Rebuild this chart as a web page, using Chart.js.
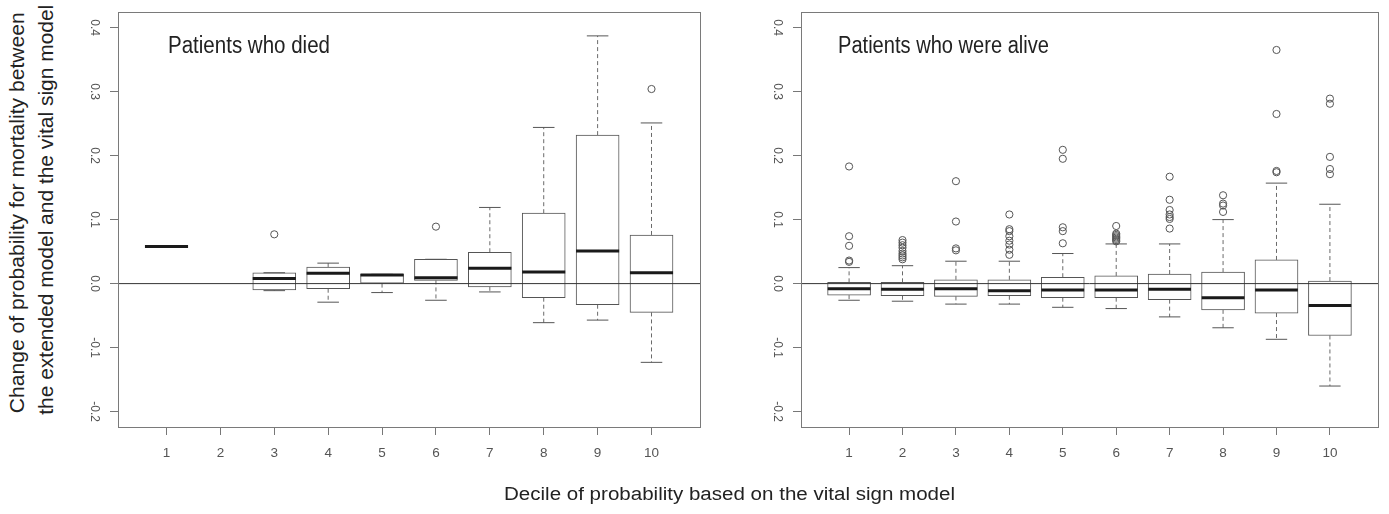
<!DOCTYPE html>
<html>
<head>
<meta charset="utf-8">
<script src="https://cdn.jsdelivr.net/npm/chart.js@4.4.1/dist/chart.umd.min.js"></script>
<style>
    html, body { margin: 0; padding: 0; background: #fff; }
    body { width: 1389px; height: 514px; position: relative; overflow: hidden; font-family: 'Liberation Sans', Arial, sans-serif; }
    canvas { position: absolute; top: 0; }
    .label { position: absolute; white-space: nowrap; color: #222; }
</style>
</head>
<body>
<canvas id="died-chart" width="650" height="514" style="left:60px"></canvas>
<canvas id="alive-chart" width="649" height="514" style="left:740px"></canvas>

<script>
// Deciles on the x axis and axis ticks
const deciles = [1, 2, 3, 4, 5, 6, 7, 8, 9, 10];
const yTicks = [-0.2, -0.1, 0.0, 0.1, 0.2, 0.3, 0.4];

// Patients who died (null = empty decile)
const diedLow = [0.058, null, -0.011, -0.029, -0.014, -0.026, -0.013, -0.061, -0.057, -0.123];
const diedQ1 = [0.058, null, -0.010, -0.008, 0.000, 0.005, -0.005, -0.022, -0.033, -0.045];
const diedMedian = [0.058, null, 0.008, 0.016, 0.0135, 0.009, 0.024, 0.018, 0.051, 0.017];
const diedQ3 = [0.058, null, 0.017, 0.026, 0.0145, 0.038, 0.049, 0.110, 0.232, 0.076];
const diedHigh = [0.058, null, 0.017, 0.032, 0.0145, 0.038, 0.119, 0.244, 0.387, 0.251];
const diedOutliers = [[], [], [0.077], [], [], [0.089], [], [], [], [0.304]];

// Patients who were alive
const aliveLow = [-0.026, -0.0275, -0.032, -0.032, -0.037, -0.039, -0.052, -0.069, -0.087, -0.160];
const aliveQ1 = [-0.018, -0.019, -0.020, -0.019, -0.022, -0.022, -0.025, -0.041, -0.046, -0.081];
const aliveMedian = [-0.008, -0.009, -0.008, -0.011, -0.010, -0.010, -0.009, -0.022, -0.010, -0.034];
const aliveQ3 = [0.002, 0.002, 0.006, 0.006, 0.010, 0.012, 0.015, 0.018, 0.037, 0.004];
const aliveHigh = [0.025, 0.028, 0.035, 0.035, 0.047, 0.062, 0.062, 0.100, 0.157, 0.124];
const aliveOutliers = [
    [0.034, 0.036, 0.059, 0.074, 0.183],
    [0.038, 0.041, 0.044, 0.047, 0.051, 0.056, 0.060, 0.064, 0.068],
    [0.052, 0.055, 0.097, 0.160],
    [0.045, 0.053, 0.061, 0.067, 0.074, 0.082, 0.085, 0.108],
    [0.063, 0.082, 0.088, 0.195, 0.209],
    [0.066, 0.068, 0.070, 0.072, 0.074, 0.076, 0.078, 0.090],
    [0.086, 0.101, 0.104, 0.108, 0.115, 0.131, 0.167],
    [0.112, 0.122, 0.125, 0.138],
    [0.174, 0.176, 0.265, 0.365],
    [0.171, 0.179, 0.198, 0.281, 0.289]
];

Chart.defaults.font.family = "'Liberation Sans', Arial, sans-serif";
Chart.defaults.animation = false;

const GAP = (x) => ({ x: x, y: null });

/**
 * Draw the plot frame (R box()) around the chart area
 */
const framePlugin = {
    id: 'frame',
    afterDraw(chart) {
        const { ctx, chartArea: a } = chart;
        ctx.save();
        ctx.strokeStyle = '#7a7a7a';
        ctx.lineWidth = 1;
        ctx.strokeRect(Math.round(a.left) + 0.5, Math.round(a.top) + 0.5,
            Math.round(a.right - a.left), Math.round(a.bottom - a.top));
        ctx.restore();
    }
};

/**
 * Build datasets for one boxplot panel
 */
function buildDatasets(low, q1, med, q3, high, outliers) {
    const boxes = [], medians = [], whiskers = [], caps = [], points = [];

    deciles.forEach((d, i) => {
        if (med[i] === null) return;
        boxes.push({ x: d, y: [q1[i], q3[i]] });
        medians.push({ x: d - 0.4, y: med[i] }, { x: d + 0.4, y: med[i] }, GAP(d));
        whiskers.push({ x: d, y: q3[i] }, { x: d, y: high[i] }, GAP(d));
        whiskers.push({ x: d, y: q1[i] }, { x: d, y: low[i] }, GAP(d));
        caps.push({ x: d - 0.2, y: high[i] }, { x: d + 0.2, y: high[i] }, GAP(d));
        caps.push({ x: d - 0.2, y: low[i] }, { x: d + 0.2, y: low[i] }, GAP(d));
        outliers[i].forEach(v => points.push({ x: d, y: v }));
    });

    return [
        {
            type: 'bar', data: boxes, order: 4,
            backgroundColor: '#ffffff', borderColor: '#555', borderWidth: 1,
            borderSkipped: false, barThickness: 43
        },
        {
            type: 'scatter', data: whiskers, order: 5, showLine: true, spanGaps: false,
            borderColor: '#6a6a6a', borderWidth: 1, borderDash: [4, 3], pointRadius: 0
        },
        {
            type: 'scatter', data: caps, order: 3, showLine: true, spanGaps: false,
            borderColor: '#555', borderWidth: 1, pointRadius: 0
        },
        {
            type: 'scatter', data: medians, order: 2, showLine: true, spanGaps: false,
            borderColor: '#1a1a1a', borderWidth: 3, pointRadius: 0
        },
        {
            type: 'scatter', data: points, order: 1,
            pointStyle: 'circle', pointRadius: 3.6, borderWidth: 1,
            borderColor: '#555', backgroundColor: 'rgba(0,0,0,0)'
        },
        {
            type: 'scatter', data: [{ x: 0.1, y: 0 }, { x: 10.9, y: 0 }], order: 0, showLine: true,
            borderColor: '#333', borderWidth: 1, pointRadius: 0
        }
    ];
}

/**
 * Create one panel chart
 */
function createPanel(canvasId, datasets, yAxisWidth, rightPad) {
    return new Chart(document.getElementById(canvasId), {
        type: 'bar',
        data: { datasets: datasets },
        plugins: [framePlugin],
        options: {
            responsive: false,
            devicePixelRatio: 1,
            layout: { padding: { top: 11, right: rightPad, left: 0, bottom: 0 } },
            plugins: { legend: { display: false }, tooltip: { enabled: false } },
            scales: {
                x: {
                    type: 'linear', min: 0.1, max: 10.9, offset: false,
                    afterBuildTicks: s => { s.ticks = deciles.map(v => ({ value: v })); },
                    afterFit: s => { s.height = 87; },
                    border: { display: false },
                    grid: { offset: false, drawOnChartArea: false, drawTicks: true, tickLength: 8, color: '#777' },
                    ticks: { color: '#555', font: { size: 13.5 }, padding: 10, autoSkip: false, maxRotation: 0 }
                },
                y: {
                    type: 'linear', min: -0.224, max: 0.424,
                    afterBuildTicks: s => { s.ticks = yTicks.map(v => ({ value: v })); },
                    afterFit: s => { s.width = yAxisWidth; },
                    border: { display: false },
                    grid: { drawOnChartArea: false, drawTicks: true, tickLength: 8, color: '#777' },
                    ticks: {
                        color: '#555', font: { size: 12 }, padding: 5,
                        minRotation: -90, maxRotation: -90, crossAlign: 'center',
                        callback: v => v.toFixed(1)
                    }
                }
            }
        }
    });
}

createPanel('died-chart',
    buildDatasets(diedLow, diedQ1, diedMedian, diedQ3, diedHigh, diedOutliers), 58, 10);
createPanel('alive-chart',
    buildDatasets(aliveLow, aliveQ1, aliveMedian, aliveQ3, aliveHigh, aliveOutliers), 61, 11);

/**
 * Place a text label, squeezed to a target width like the original figure
 */
function placeText(text, { left, top, size, width, rotate, cx, cy }) {
    const el = document.createElement('div');
    el.className = 'label';
    el.textContent = text;
    el.style.fontSize = size + 'px';
    el.style.lineHeight = size + 'px';
    document.body.appendChild(el);
    const natural = el.getBoundingClientRect().width;
    const k = width / natural;
    if (rotate) {
        el.style.left = (cx - natural / 2) + 'px';
        el.style.top = (cy - size / 2) + 'px';
        el.style.transformOrigin = '50% 50%';
        el.style.transform = `rotate(-90deg) scaleX(${k})`;
    } else {
        el.style.left = left + 'px';
        el.style.top = top + 'px';
        el.style.transformOrigin = '0 0';
        el.style.transform = `scaleX(${k})`;
    }
}

placeText('Patients who died', { left: 168, top: 33.5, size: 23, width: 162 });
placeText('Patients who were alive', { left: 838, top: 33.5, size: 23, width: 211 });
placeText('Decile of probability based on the vital sign model', { left: 504, top: 485, size: 18, width: 451 });
placeText('Change of probability for mortality between', { rotate: true, cx: 17.5, cy: 212.5, size: 19.5, width: 401 });
placeText('the extended model and the vital sign model', { rotate: true, cx: 46.5, cy: 210, size: 19.5, width: 410 });
</script>
</body>
</html>
